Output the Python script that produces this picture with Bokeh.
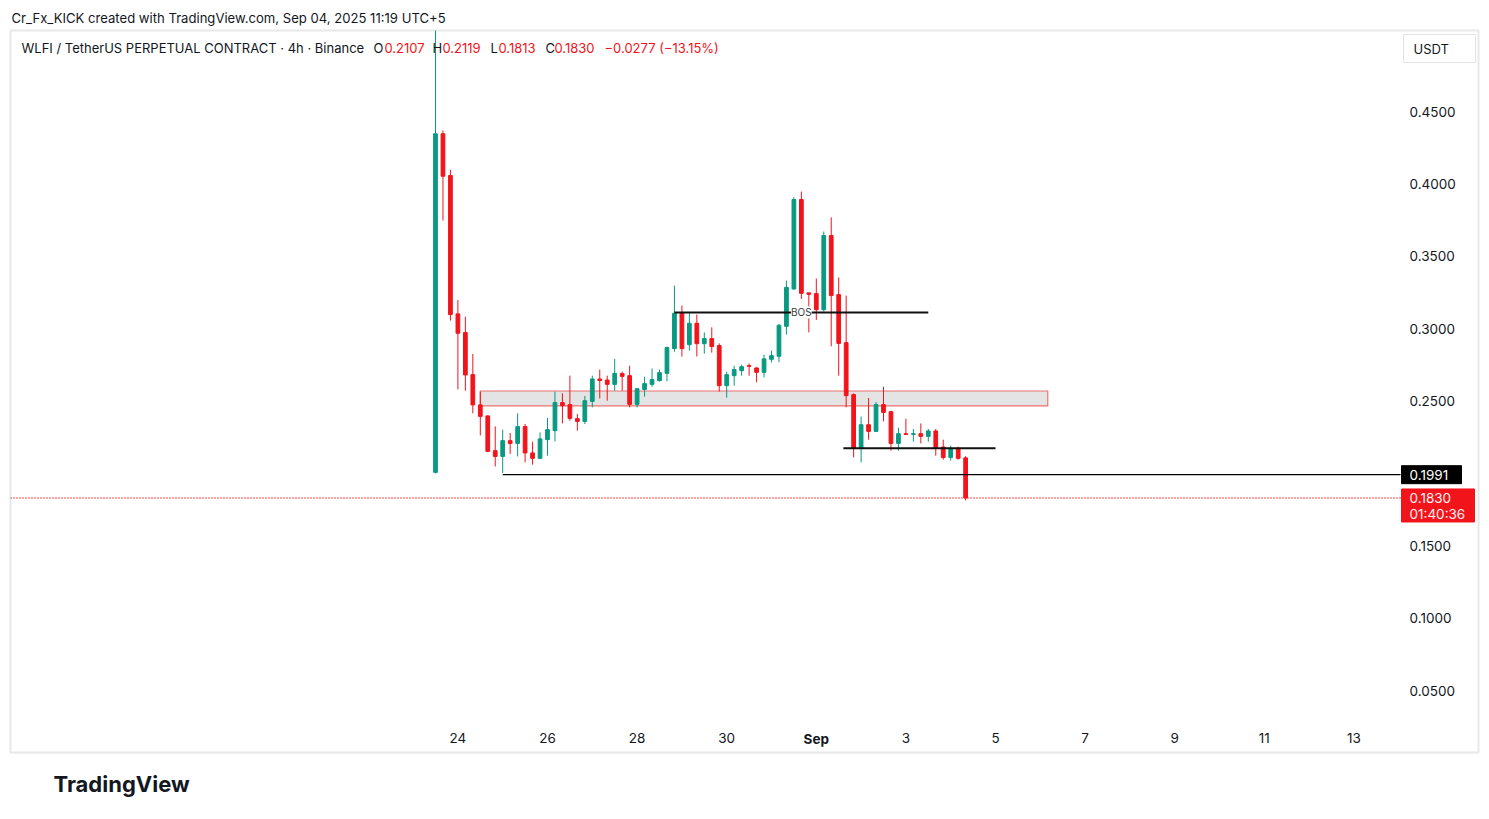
import numpy as np
import pandas as pd
from bokeh.plotting import figure
from bokeh.models import (LinearAxis, FixedTicker, PrintfTickFormatter, Range1d,
                          Label, ColumnDataSource, Title)
from bokeh.core.properties import value
from bokeh.embed import file_html
from bokeh.resources import INLINE

# ---------------- data (WLFI/USDT perp, 4h) ----------------
first_candle = "2025-08-23 12:00"
n_candles = 72
opens = [0.2007, 0.4346, 0.4058, 0.3102, 0.2973, 0.2682, 0.2473, 0.2397, 0.2157, 0.2117,
         0.2226, 0.2207, 0.2323, 0.2141, 0.2104, 0.2233, 0.2295, 0.2489, 0.2475, 0.2378,
         0.2359, 0.2497, 0.2652, 0.2645, 0.2615, 0.2689, 0.2675, 0.2477, 0.2580, 0.2615,
         0.2641, 0.2691, 0.2862, 0.3106, 0.2889, 0.3037, 0.2896, 0.2931, 0.2883, 0.2606,
         0.2675, 0.2710, 0.2744, 0.2728, 0.2698, 0.2788, 0.2809, 0.3016, 0.3274, 0.3892,
         0.3247, 0.3242, 0.3131, 0.3643, 0.3235, 0.2903, 0.2544, 0.2173, 0.2336, 0.2290,
         0.2475, 0.2426, 0.2207, 0.2274, 0.2269, 0.2274, 0.2256, 0.2293, 0.2182, 0.2110,
         0.2173, 0.2107]
highs = [0.5500, 0.4369, 0.4097, 0.3198, 0.3083, 0.2825, 0.2565, 0.2400, 0.2325, 0.2302,
         0.2279, 0.2415, 0.2341, 0.2219, 0.2283, 0.2383, 0.2565, 0.2553, 0.2675, 0.2410,
         0.2535, 0.2675, 0.2717, 0.2675, 0.2791, 0.2703, 0.2744, 0.2585, 0.2668, 0.2724,
         0.2717, 0.2876, 0.3297, 0.3159, 0.3106, 0.3097, 0.2974, 0.3009, 0.2898, 0.2703,
         0.2744, 0.2751, 0.2760, 0.2733, 0.2820, 0.2848, 0.3032, 0.3332, 0.3908, 0.3947,
         0.3247, 0.3346, 0.3671, 0.3769, 0.3353, 0.3228, 0.2553, 0.2392, 0.2521, 0.2493,
         0.2599, 0.2433, 0.2316, 0.2378, 0.2307, 0.2345, 0.2307, 0.2307, 0.2233, 0.2191,
         0.2184, 0.2119]
lows = [0.2000, 0.3747, 0.3055, 0.2580, 0.2571, 0.2415, 0.2262, 0.2150, 0.2048, 0.2003,
        0.2134, 0.2117, 0.2076, 0.2060, 0.2100, 0.2122, 0.2221, 0.2345, 0.2364, 0.2295,
        0.2341, 0.2456, 0.2518, 0.2502, 0.2571, 0.2571, 0.2456, 0.2456, 0.2530, 0.2599,
        0.2634, 0.2636, 0.2841, 0.2807, 0.2848, 0.2807, 0.2827, 0.2834, 0.2565, 0.2523,
        0.2606, 0.2675, 0.2675, 0.2629, 0.2663, 0.2767, 0.2767, 0.2959, 0.3268, 0.3205,
        0.2974, 0.3060, 0.3118, 0.2878, 0.2675, 0.2456, 0.2110, 0.2076, 0.2233, 0.2290,
        0.2359, 0.2157, 0.2157, 0.2269, 0.2219, 0.2207, 0.2219, 0.2122, 0.2095, 0.2088,
        0.2095, 0.1813]
closes = [0.4346, 0.4053, 0.3097, 0.2968, 0.2680, 0.2473, 0.2394, 0.2152, 0.2117, 0.2226,
          0.2207, 0.2323, 0.2141, 0.2104, 0.2238, 0.2302, 0.2489, 0.2468, 0.2380, 0.2359,
          0.2502, 0.2652, 0.2641, 0.2615, 0.2691, 0.2670, 0.2477, 0.2585, 0.2620, 0.2648,
          0.2696, 0.2869, 0.3106, 0.2862, 0.3037, 0.2896, 0.2931, 0.2876, 0.2606, 0.2682,
          0.2717, 0.2737, 0.2740, 0.2698, 0.2791, 0.2813, 0.3023, 0.3285, 0.3892, 0.3244,
          0.3237, 0.3131, 0.3643, 0.3228, 0.2898, 0.2537, 0.2173, 0.2336, 0.2290, 0.2475,
          0.2421, 0.2207, 0.2274, 0.2269, 0.2274, 0.2256, 0.2293, 0.2176, 0.2110, 0.2173,
          0.2104, 0.1830]

price_ticks = [0.05, 0.10, 0.15, 0.25, 0.30, 0.35, 0.40, 0.45]
day_ticks = ["2025-08-24", "2025-08-26", "2025-08-28", "2025-08-30", "2025-09-03",
             "2025-09-05", "2025-09-07", "2025-09-09", "2025-09-11", "2025-09-13"]
day_labels = ["24", "26", "28", "30", "3", "5", "7", "9", "11", "13"]
month_tick = "2025-09-01"
month_label = "Sep"

# drawings
zone_start, zone_end = "2025-08-24 12:00", "2025-09-06 04:00"
zone_top, zone_bottom = 0.2569, 0.2466
bos_start, bos_end, bos_level = "2025-08-28 20:00", "2025-09-03 12:00", 0.3112
bos_text_at = "2025-08-31 16:00"
low_line_start, low_line_end, low_line_level = "2025-09-01 14:30", "2025-09-05 00:00", 0.2173
support_start, support_level = "2025-08-25 00:00", 0.1991
last_price = 0.1830
countdown = "01:40:36"
currency = "USDT"

header_name = "WLFI / TetherUS PERPETUAL CONTRACT · 4h · Binance"
ohlc_letters = ["O", "H", "L", "C"]
ohlc_values = ["0.2107", "0.2119", "0.1813", "0.1830"]
change_text = "−0.0277 (−13.15%)"
credit_text = "Cr_Fx_KICK created with TradingView.com, Sep 04, 2025 11:19 UTC+5"
brand_text = "TradingView"

# ---------------- style / layout ----------------
GREEN = "#089981"
RED = "#F2141B"
INK = "#131722"
FONT = "Inter"

FRAME_L, FRAME_R, FRAME_T, FRAME_B = 10, 1478, 30, 752
FIG_W, FIG_H = 1481, 819
PANE_EDGE_PX = 1400
day0 = pd.Timestamp("2025-08-24")
px_per_day = 44.8
x0_px_day0 = 457.4
MS_PER_PX = 86400000 / px_per_day
y_px_045, px_per_unit = 111.0, 1447.5


def ms(s):
    return int(pd.Timestamp(s).value // 10**6)


def px_to_time(px):
    return day0 + pd.Timedelta(days=(px - x0_px_day0) / px_per_day)


def px_to_price(py):
    return 0.45 - (py - y_px_045) / px_per_unit


def dpx_price(n):
    return n / px_per_unit


times = pd.date_range(first_candle, periods=n_candles, freq="4h")
o = np.array(opens); c = np.array(closes)
src = ColumnDataSource(dict(
    t=times, o=o, h=highs, l=lows, c=c,
    top=np.maximum(o, c), bottom=np.minimum(o, c),
    color=np.where(c >= o, GREEN, RED),
))

x_start = px_to_time(FRAME_L)
x_end = px_to_time(FRAME_R)
pane_edge = px_to_time(PANE_EDGE_PX)
pane_edge_ms = ms(pane_edge)

p = figure(width=FIG_W, height=FIG_H, output_backend="svg", toolbar_location=None,
           x_axis_location=None, y_axis_location=None,
           x_range=Range1d(x_start, x_end),
           y_range=Range1d(px_to_price(FRAME_B), px_to_price(FRAME_T)),
           min_border_left=FRAME_L, min_border_right=FIG_W - FRAME_R,
           min_border_top=FRAME_T, min_border_bottom=FIG_H - FRAME_B,
           background_fill_color="white", border_fill_color="white",
           outline_line_color="#e8e8e8", outline_line_width=2)
p.grid.visible = False

p.title.text = credit_text
p.title.align = "left"
p.title.offset = 1
p.title.text_font = FONT
p.title.text_font_size = "13.1px"
p.title.text_font_style = "normal"
p.title.text_color = INK
p.title.standoff = 9

brand = Title(text=brand_text, align="left", offset=43, text_font=FONT,
              text_font_size="22px", text_font_style="bold", text_color=INK, standoff=33)
p.add_layout(brand, "below")

# price axis inside the frame
yaxis = LinearAxis(fixed_location=pane_edge_ms, ticker=FixedTicker(ticks=price_ticks),
                   formatter=PrintfTickFormatter(format="%.4f"),
                   axis_line_color=None, major_tick_line_color=None, minor_tick_line_color=None,
                   major_tick_out=0, major_tick_in=0, minor_tick_out=0,
                   major_label_standoff=9, major_label_text_font=FONT,
                   major_label_text_font_size="13.5px", major_label_text_color=INK)
p.add_layout(yaxis, "right")

tick_ms = [ms(d) for d in day_ticks]
xaxis = LinearAxis(fixed_location=px_to_price(730), ticker=FixedTicker(ticks=tick_ms),
                   major_label_overrides={t: lab for t, lab in zip(tick_ms, day_labels)},
                   axis_line_color=None, major_tick_line_color=None, minor_tick_line_color=None,
                   major_tick_out=0, major_tick_in=0, minor_tick_out=0,
                   major_label_standoff=2, major_label_text_font=FONT,
                   major_label_text_font_size="13.5px", major_label_text_color=INK)
p.add_layout(xaxis, "below")
p.add_layout(Label(x=ms(month_tick), y=FRAME_B - 738, y_units="screen", text=month_label,
                   text_align="center", text_baseline="middle", text_font=FONT,
                   text_font_size="13.5px", text_font_style="bold", text_color=INK))

# zone
p.quad(left=[pd.Timestamp(zone_start)], right=[pd.Timestamp(zone_end)],
       top=[zone_top], bottom=[zone_bottom],
       fill_color="#e4e4e4", line_color="#f07070", line_width=1.2)

# candles
p.segment(x0="t", y0="l", x1="t", y1="h", line_color="color", line_width=1, source=src)
p.vbar(x="t", width=4 * 3600 * 1000 * 0.5, top="top", bottom="bottom",
       fill_color="color", line_color="color", line_width=1, source=src)

# drawings
p.line(x=[pd.Timestamp(bos_start), pd.Timestamp(bos_end)], y=[bos_level, bos_level],
       line_color="#111111", line_width=2)
p.line(x=[pd.Timestamp(low_line_start), pd.Timestamp(low_line_end)],
       y=[low_line_level, low_line_level], line_color="#111111", line_width=2)
p.line(x=[pd.Timestamp(support_start), pane_edge], y=[support_level, support_level],
       line_color="#000000", line_width=1.2)
p.line(x=[x_start, pane_edge], y=[last_price, last_price],
       line_color=RED, line_width=1.3, line_dash="1 2")

p.add_layout(Label(x=ms(bos_text_at), y=bos_level, text="BOS", text_align="center",
                   text_baseline="middle", text_font=FONT, text_font_size="10px",
                   text_color="#3a3a3a", background_fill_color="white"))

# price-scale labels (boxes at the pane edge)
p.quad(left=[pane_edge_ms + 1 * MS_PER_PX], right=[pane_edge_ms + 61 * MS_PER_PX],
       top=[support_level + dpx_price(9)], bottom=[support_level - dpx_price(9)],
       fill_color="black", line_color="black")
p.text(x=[pane_edge_ms], y=[support_level], text=[f"{support_level:.4f}"], x_offset=9,
       text_align="left", text_baseline="middle", text_font=value(FONT),
       text_font_size="13.5px", text_color="white")
p.quad(left=[pane_edge_ms + 1 * MS_PER_PX], right=[pane_edge_ms + 74 * MS_PER_PX],
       top=[last_price + dpx_price(9)], bottom=[last_price - dpx_price(24)],
       fill_color=RED, line_color=RED)
p.text(x=[pane_edge_ms, pane_edge_ms], y=[last_price, last_price - dpx_price(16)],
       text=[f"{last_price:.4f}", countdown], x_offset=9,
       text_align="left", text_baseline="middle", text_font=value(FONT),
       text_font_size="13.5px", text_color="#fff0f0")

# currency button
p.quad(left=[px_to_time(1403)], right=[px_to_time(1475)],
       top=[px_to_price(34)], bottom=[px_to_price(62)],
       fill_color="white", line_color="#e0e3eb", line_width=1)
p.text(x=[px_to_time(1413)], y=[px_to_price(48)], text=[currency],
       text_align="left", text_baseline="middle", text_font=value(FONT),
       text_font_size="13px", text_color=INK)

# header legend (screen units relative to frame)
def add_text(text, px, py, color=INK, size="13px", style="normal"):
    p.add_layout(Label(x=px - FRAME_L, y=FRAME_B - py, x_units="screen", y_units="screen",
                       text=text, text_align="left", text_baseline="middle", text_font=FONT,
                       text_font_size=size, text_font_style=style, text_color=color))

add_text(header_name, 21, 47)
letter_px = [373, 432, 490, 545]
value_px = [384, 442, 498, 554]
for L, V, lx, vx in zip(ohlc_letters, ohlc_values, letter_px, value_px):
    add_text(L, lx, 47)
    add_text(V, vx, 47, color=RED)
add_text(change_text, 604, 47, color=RED)

open("out.html", "w").write(file_html(p, INLINE))
